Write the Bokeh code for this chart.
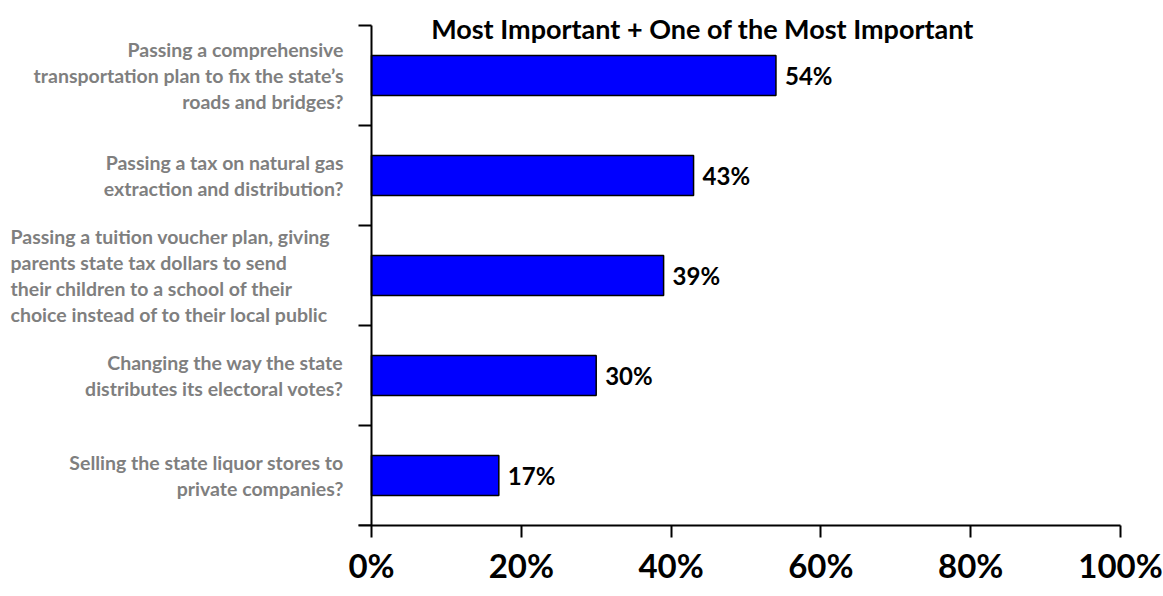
from bokeh.plotting import figure
from bokeh.models import Range1d, FixedTicker, Label, ColumnDataSource
from bokeh.core.properties import value
from bokeh.embed import file_html
from bokeh.resources import INLINE

categories = [
    "Passing a comprehensive\ntransportation plan to fix the state\u2019s\nroads and bridges?",
    "Passing a tax on natural gas\nextraction and distribution?",
    "Passing a tuition voucher plan, giving\nparents state tax dollars to send\ntheir children to a school of their\nchoice instead of to their local public",
    "Changing the way the state\ndistributes its electoral votes?",
    "Selling the state liquor stores to\nprivate companies?",
]
values = [54, 43, 39, 30, 17]
value_labels = ["54%", "43%", "39%", "30%", "17%"]
x_ticks = [0, 20, 40, 60, 80, 100]
x_tick_labels = ["0%", "20%", "40%", "60%", "80%", "100%"]
title_text = "Most Important + One of the Most Important"

FONT = "Lato"
W, H = 1163, 596
AXIS_X_PX = 371      # pixel position of 0%
FRAME_RIGHT_PX = 1120
AXIS_Y_PX = 525      # pixel position of x axis
BAND_PX = 100
ppu = (FRAME_RIGHT_PX - AXIS_X_PX) / 100.0
n = len(categories)
ypos = [n - i - 0.5 for i in range(n)]
y_top = AXIS_Y_PX / BAND_PX
x_left = -AXIS_X_PX / ppu
tick_len = 13 / ppu

p = figure(width=W, height=H, output_backend="svg", toolbar_location=None,
           x_range=Range1d(x_left, 100), y_range=Range1d(0, y_top),
           y_axis_location=None,
           min_border_left=0, min_border_right=W - FRAME_RIGHT_PX,
           min_border_top=0, min_border_bottom=H - AXIS_Y_PX)
p.outline_line_color = None
p.grid.grid_line_color = None
p.background_fill_color = "white"
p.border_fill_color = "white"

src = ColumnDataSource(dict(y=ypos, v=values, lab=value_labels))
p.hbar(y="y", right="v", left=0, height=0.4, source=src,
       fill_color="#0000FF", line_color="black", line_width=1.5)
p.text(x="v", y="y", text="lab", source=src, x_offset=9,
       text_font=value(FONT), text_font_style="bold", text_font_size="24px",
       text_baseline="middle", text_align="left", text_color="black")

# vertical axis line and boundary ticks
bounds = list(range(n + 1))
p.segment(x0=[0], y0=[0], x1=[0], y1=[n], line_color="black", line_width=2)
p.segment(x0=[-tick_len] * len(bounds), y0=bounds, x1=[0] * len(bounds), y1=bounds,
          line_color="black", line_width=2)

# x axis
xa = p.xaxis[0]
xa.ticker = FixedTicker(ticks=x_ticks, minor_ticks=[])
xa.bounds = (-tick_len, 100)
xa.major_label_overrides = {t: l for t, l in zip(x_ticks, x_tick_labels)}
xa.major_label_text_font = FONT
xa.major_label_text_font_style = "bold"
xa.major_label_text_font_size = "33px"
xa.major_label_text_color = "black"
xa.major_tick_out = 12
xa.major_tick_in = 0
xa.major_tick_line_width = 2
xa.major_tick_line_color = "black"
xa.axis_line_width = 2
xa.axis_line_color = "black"
xa.major_label_standoff = 7

# category labels
for i, (cat, y) in enumerate(zip(categories, ypos)):
    if i == 2:
        lab = Label(x=0, y=y, text=cat, x_offset=-361, text_align="left")
    else:
        lab = Label(x=0, y=y, text=cat, x_offset=-28, text_align="right")
    lab.text_baseline = "middle"
    lab.text_font = FONT
    lab.text_font_style = "bold"
    lab.text_font_size = "19.5px"
    lab.text_color = "#7F7F7F"
    lab.text_line_height = 1.12
    p.add_layout(lab)

p.add_layout(Label(x=(702 - AXIS_X_PX) / ppu, y=n, y_offset=-3, text=title_text,
                   text_align="center", text_baseline="middle", text_font=FONT,
                   text_font_style="bold", text_font_size="27px", text_color="black"))

open("out.html", "w").write(file_html(p, INLINE))
